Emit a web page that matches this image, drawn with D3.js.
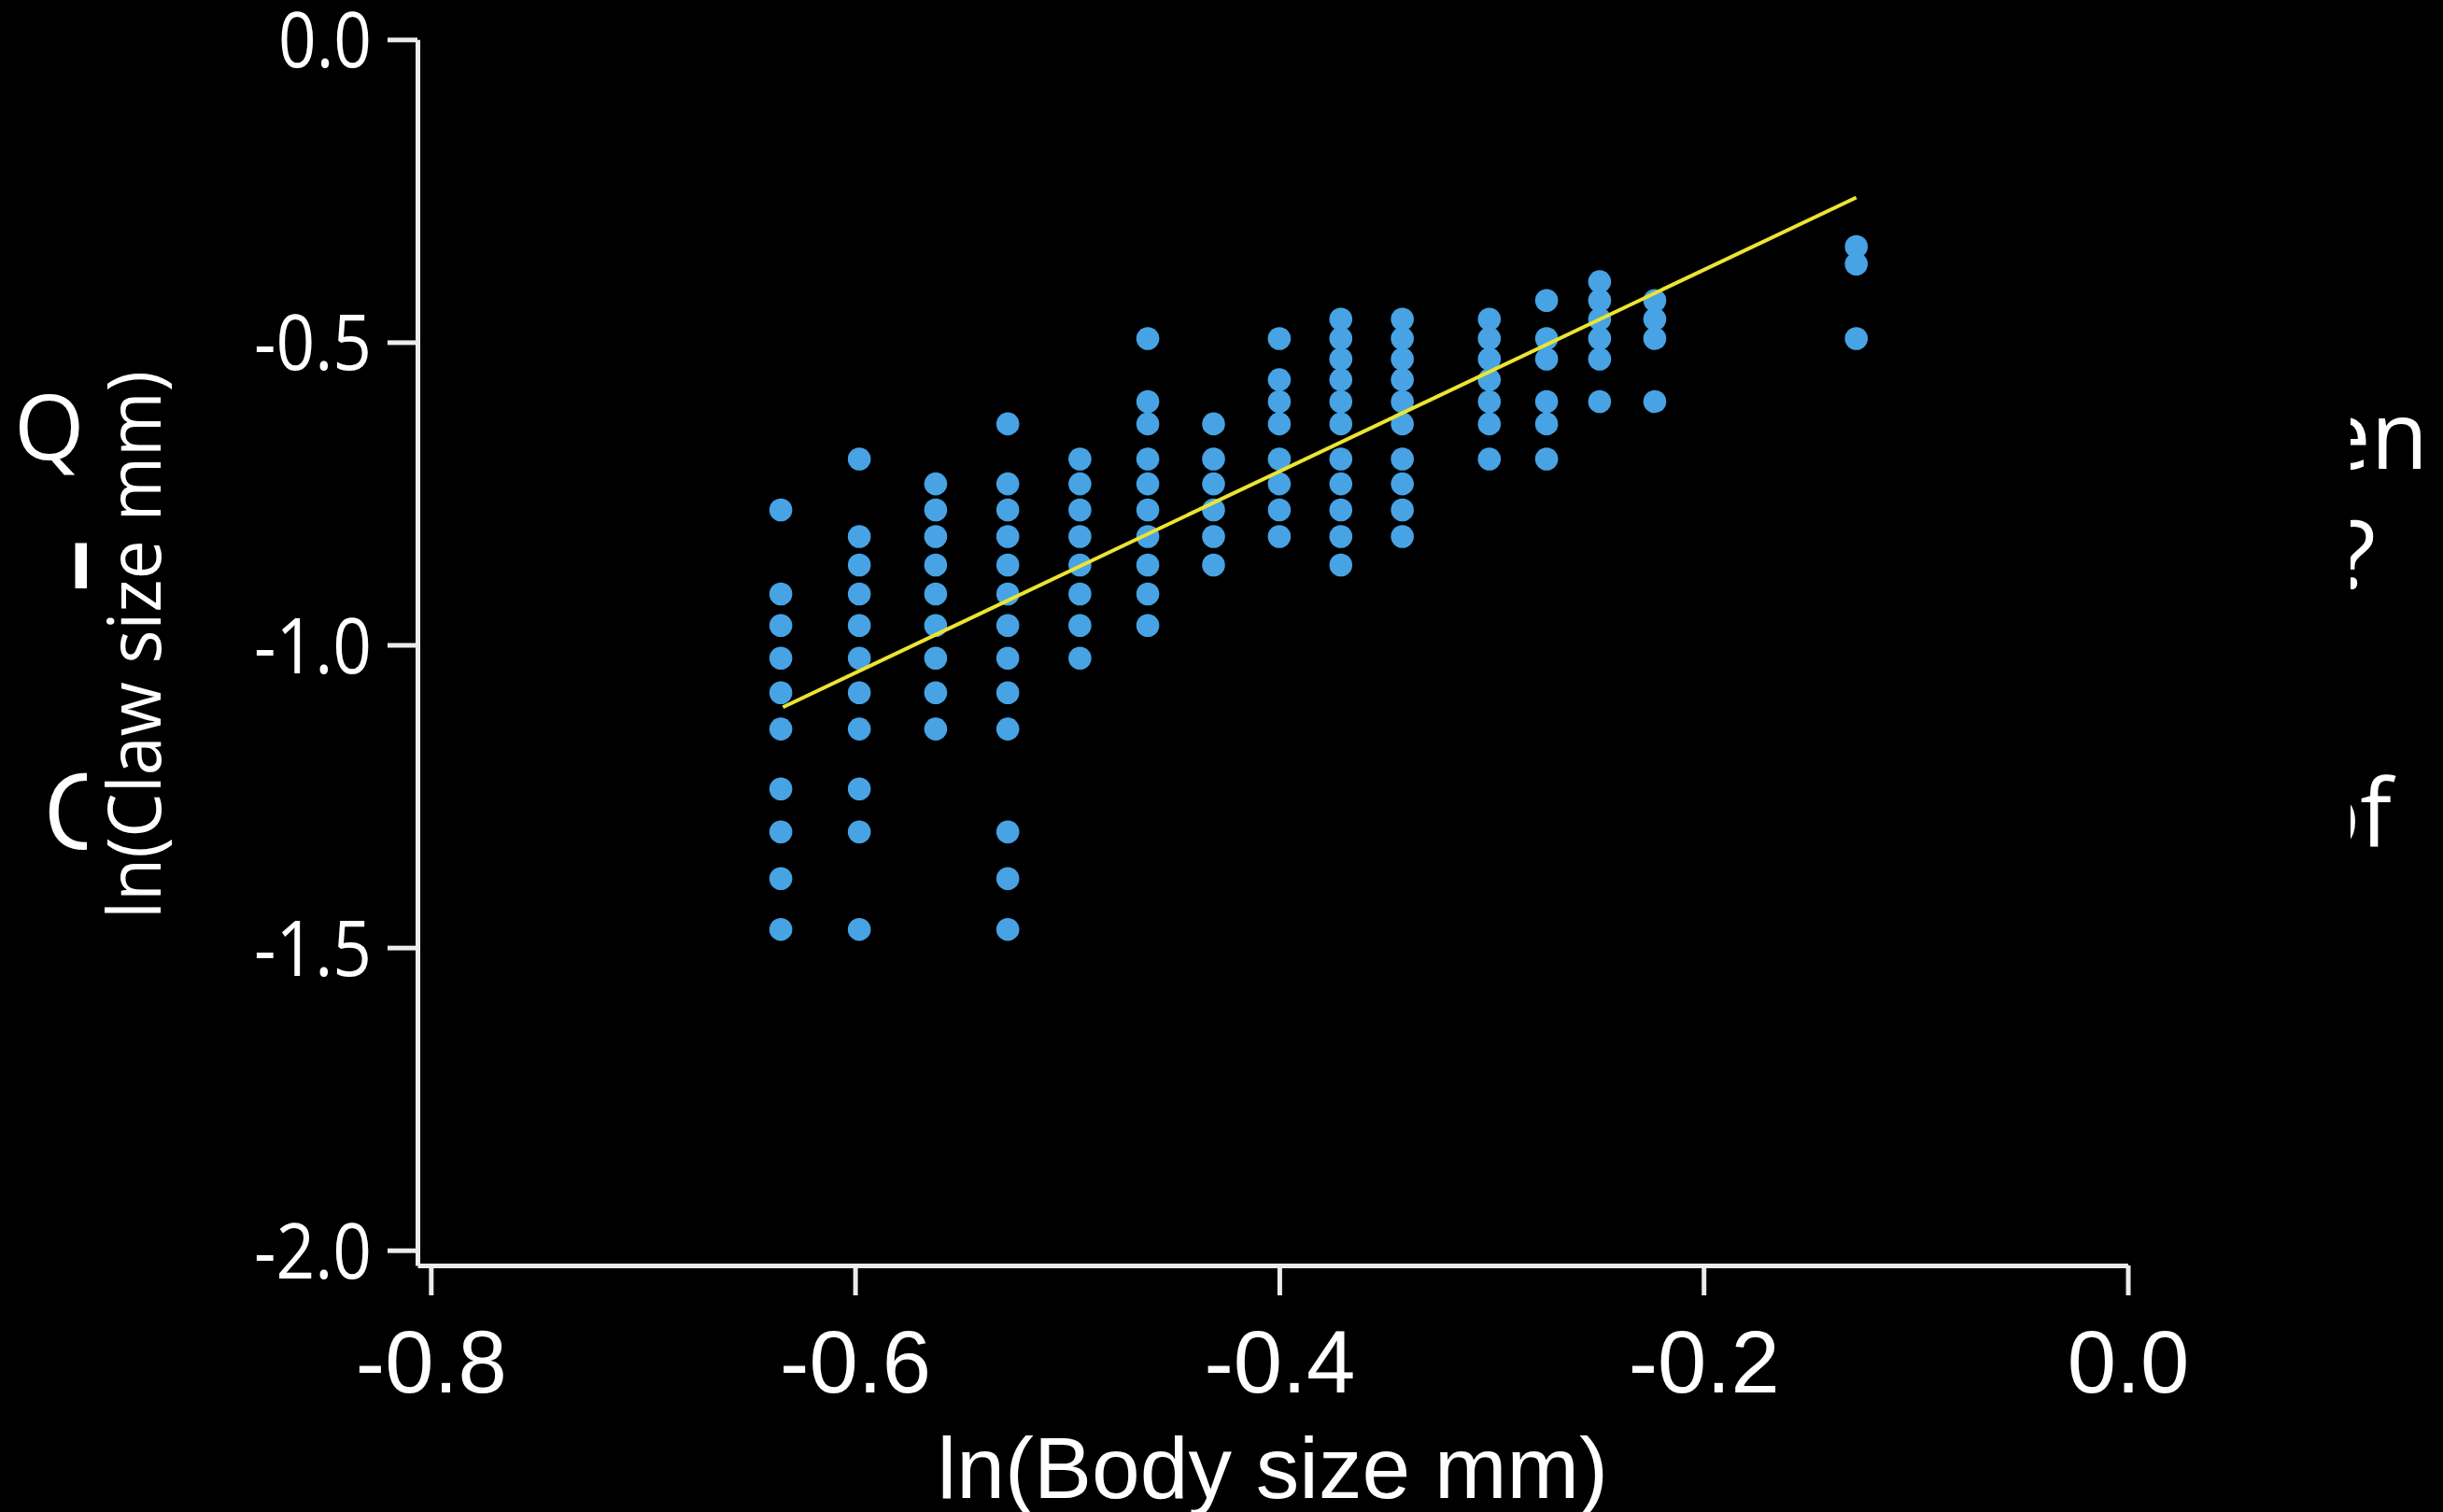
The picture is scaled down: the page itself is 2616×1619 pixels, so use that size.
<!DOCTYPE html>
<html>
<head>
<meta charset="utf-8">
<script src="https://cdn.jsdelivr.net/npm/d3@7"></script>
<style>
  html, body { margin: 0; padding: 0; background: #000; }
  svg { display: block; }
</style>
</head>
<body>
<script>
// ---- data ----
const bodyX = [-0.635, -0.598, -0.562, -0.528, -0.494, -0.462, -0.431, -0.400,
               -0.371, -0.342, -0.301, -0.274, -0.249, -0.223, -0.128];
const clawCols = [
  [-0.777, -0.916, -0.968, -1.022, -1.079, -1.139, -1.238, -1.309, -1.386, -1.470],
  [-0.693, -0.821, -0.868, -0.916, -0.968, -1.022, -1.079, -1.139, -1.238, -1.309, -1.470],
  [-0.734, -0.777, -0.821, -0.868, -0.916, -0.968, -1.022, -1.079, -1.139],
  [-0.635, -0.734, -0.777, -0.821, -0.868, -0.916, -0.968, -1.022, -1.079, -1.139, -1.309, -1.386, -1.470],
  [-0.693, -0.734, -0.777, -0.821, -0.868, -0.916, -0.968, -1.022],
  [-0.494, -0.598, -0.635, -0.693, -0.734, -0.777, -0.821, -0.868, -0.916, -0.968],
  [-0.635, -0.693, -0.734, -0.777, -0.821, -0.868],
  [-0.494, -0.562, -0.598, -0.635, -0.693, -0.734, -0.777, -0.821],
  [-0.462, -0.494, -0.528, -0.562, -0.598, -0.635, -0.693, -0.734, -0.777, -0.821, -0.868],
  [-0.462, -0.494, -0.528, -0.562, -0.598, -0.635, -0.693, -0.734, -0.777, -0.821],
  [-0.462, -0.494, -0.528, -0.562, -0.598, -0.635, -0.693],
  [-0.431, -0.494, -0.528, -0.598, -0.635, -0.693],
  [-0.400, -0.431, -0.462, -0.494, -0.528, -0.598],
  [-0.431, -0.462, -0.494, -0.598],
  [-0.342, -0.371, -0.494]
];
const fitX = [-0.634, -0.128];
const fitY = [-1.103, -0.261];
const xTicks = [-0.8, -0.6, -0.4, -0.2, 0.0];
const yTicks = [0.0, -0.5, -1.0, -1.5, -2.0];
const xTitle = "ln(Body size mm)";
const yTitle = "ln(Claw size mm)";
const leftFragments = ["Q", "-", "C"];
const rightFragments = ["then", "size?", "of"];

// ---- layout ----
const W = 2616, H = 1619;
const x = d3.scaleLinear().domain([-0.8063, 0]).range([447, 2278.5]);
const y = d3.scaleLinear().domain([-2.0251, 0]).range([1355, 42.3]);

const points = [];
bodyX.forEach((bx, i) => clawCols[i].forEach(cy => points.push({x: bx, y: cy})));

const svg = d3.select("body").append("svg")
  .attr("width", W).attr("height", H)
  .style("background", "#000");

svg.append("rect").attr("width", W).attr("height", H).attr("fill", "#000");

const defs = svg.append("defs");
defs.append("clipPath").attr("id", "clipL")
  .append("rect").attr("x", 0).attr("y", 0).attr("width", 93).attr("height", H);
defs.append("clipPath").attr("id", "clipR")
  .append("rect").attr("x", 2517).attr("y", 0).attr("width", W - 2517).attr("height", H);

// background slide fragments (clipped)
const fragFont = "'Open Sans', 'Noto Sans', sans-serif";
const gl = svg.append("g").attr("clip-path", "url(#clipL)").attr("fill", "#fff")
  .style("font-family", fragFont);
gl.append("text").attr("x", 15).attr("y", 492).attr("font-size", 97).text(leftFragments[0]);
gl.append("text").attr("transform", "translate(141,638) rotate(-90)")
  .attr("font-size", 200).text(leftFragments[1]);
gl.append("text").attr("x", 46).attr("y", 909).attr("font-size", 112).text(leftFragments[2]);

const gr = svg.append("g").attr("clip-path", "url(#clipR)").attr("fill", "#fff")
  .style("font-family", fragFont).attr("text-anchor", "end").attr("font-size", 100);
gr.append("text").attr("x", 2600).attr("y", 502).text(rightFragments[0]);
gr.append("text").attr("x", 2544).attr("y", 630).text(rightFragments[1]);
gr.append("text").attr("x", 2561).attr("y", 907).text(rightFragments[2]);

// ---- axes ----
const axisColor = "#ececec";
const fmt = d => d.toFixed(1);

const gy = svg.append("g")
  .attr("transform", `translate(${x.range()[0]},0)`)
  .call(d3.axisLeft(y).tickValues(yTicks).tickSize(32).tickSizeOuter(0)
        .tickPadding(17).tickFormat(fmt));
gy.select(".domain").attr("stroke", axisColor).attr("stroke-width", 5);
gy.selectAll(".tick line").attr("stroke", axisColor).attr("stroke-width", 5);
gy.selectAll(".tick text")
  .attr("fill", "#fff")
  .attr("dy", 29.5)
  .style("font-family", "'Open Sans', 'Noto Sans', sans-serif")
  .style("font-size", "82px")
  .attr("textLength", d => d === 0 ? 100 : 126)
  .attr("lengthAdjust", "spacingAndGlyphs");

const gx = svg.append("g")
  .attr("transform", `translate(0,${y.range()[0]})`)
  .call(d3.axisBottom(x).tickValues(xTicks).tickSize(32).tickSizeOuter(0)
        .tickPadding(37).tickFormat(fmt));
gx.select(".domain").attr("stroke", axisColor).attr("stroke-width", 5);
gx.selectAll(".tick line").attr("stroke", axisColor).attr("stroke-width", 5);
gx.selectAll(".tick text")
  .attr("fill", "#fff")
  .attr("y", 136).attr("dy", 0)
  .style("font-family", "'Liberation Sans', Arial, sans-serif")
  .style("font-size", "94px");

// axis titles
svg.append("text")
  .attr("x", (x.range()[0] + x.range()[1]) / 2 + 0)
  .attr("y", 1604)
  .attr("text-anchor", "middle")
  .attr("fill", "#fff")
  .style("font-family", "'Liberation Sans', Arial, sans-serif")
  .style("font-size", "93px")
  .text(xTitle);

svg.append("text")
  .attr("transform", `translate(172,${(y(0) + y(-2)) / 2}) rotate(-90)`)
  .attr("text-anchor", "middle")
  .attr("fill", "#fff")
  .style("font-family", "'Open Sans', 'Noto Sans', sans-serif")
  .style("font-size", "78px")
  .attr("textLength", 587)
  .attr("lengthAdjust", "spacingAndGlyphs")
  .text(yTitle);

// ---- points ----
svg.append("g").selectAll("circle").data(points).join("circle")
  .attr("cx", d => x(d.x))
  .attr("cy", d => y(d.y))
  .attr("r", 12.3)
  .attr("fill", "#47a3e3");

// ---- fitted line ----
svg.append("line")
  .attr("x1", x(fitX[0])).attr("y1", y(fitY[0]))
  .attr("x2", x(fitX[1])).attr("y2", y(fitY[1]))
  .attr("stroke", "#ece432")
  .attr("stroke-width", 4);
</script>
</body>
</html>
